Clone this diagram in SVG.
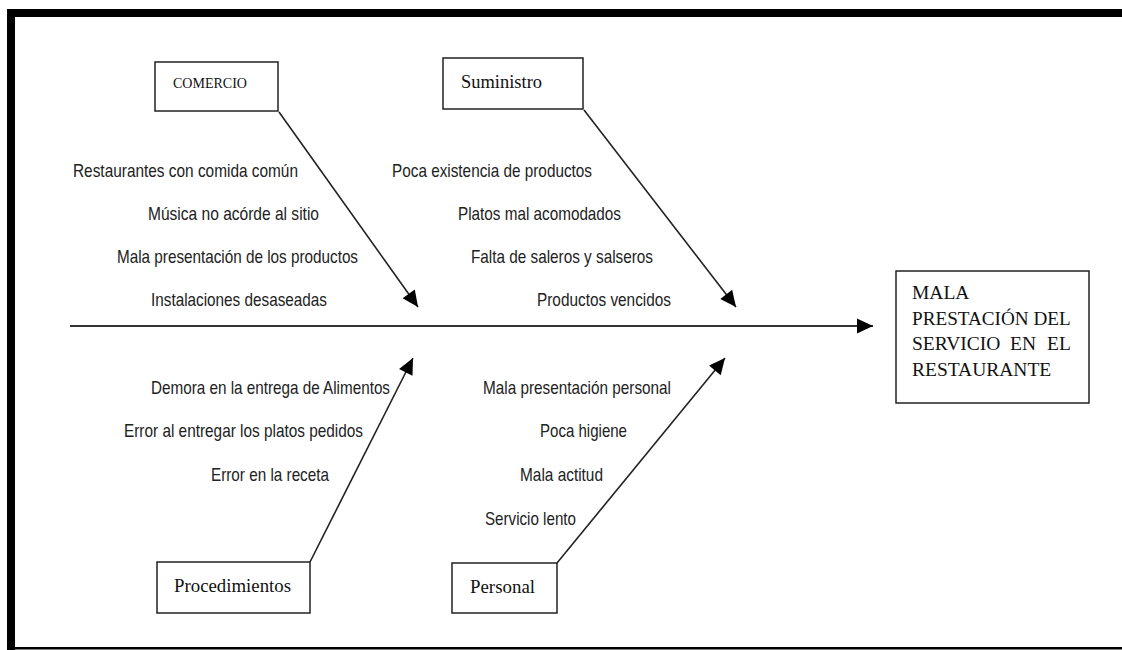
<svg xmlns="http://www.w3.org/2000/svg" width="1122" height="650" viewBox="0 0 1122 650">
<defs>
<style>
.frame{fill:#000}
.box{fill:#fff;stroke:#222;stroke-width:1.5}
.serif{font-family:"Liberation Serif","Times New Roman",serif;fill:#111}
.lbl{font-family:"Liberation Sans",Arial,sans-serif;font-size:18.5px;fill:#222}
.conn{stroke:#222;stroke-width:1.6;fill:none}
.spine{stroke:#333;stroke-width:2.2;fill:none}
</style>
<marker id="ah" markerUnits="userSpaceOnUse" markerWidth="18" markerHeight="18" viewBox="0 0 18 18" refX="17" refY="9" orient="auto">
<path d="M1,1.5 L17,9 L1,16.5 Z" fill="#000"/>
</marker>
</defs>
<rect x="0" y="0" width="1122" height="650" fill="#fff"/>
<g id="frame">
<rect class="frame" x="7" y="9" width="1115" height="8"/>
<rect class="frame" x="7" y="9" width="8" height="641"/>
<rect class="frame" x="7" y="647" width="1115" height="2.5"/>
</g>
<g id="connectors">
<line class="spine" x1="70" y1="326" x2="873" y2="326" marker-end="url(#ah)"/>
<line class="conn" x1="279" y1="112" x2="418" y2="307" marker-end="url(#ah)"/>
<line class="conn" x1="584" y1="110" x2="736" y2="307" marker-end="url(#ah)"/>
<line class="conn" x1="310" y1="562" x2="413" y2="358" marker-end="url(#ah)"/>
<line class="conn" x1="557" y1="563" x2="725" y2="358" marker-end="url(#ah)"/>
</g>
<g id="comercio">
<rect class="box" x="155" y="62" width="123" height="49"/>
<text class="serif" x="173" y="88" font-size="15.5" textLength="74" lengthAdjust="spacingAndGlyphs">COMERCIO</text>
</g>
<g id="suministro">
<rect class="box" x="443" y="58" width="140" height="51"/>
<text class="serif" x="461" y="88" font-size="19" textLength="81" lengthAdjust="spacingAndGlyphs">Suministro</text>
</g>
<g id="procedimientos">
<rect class="box" x="157" y="562" width="153" height="51"/>
<text class="serif" x="174" y="592" font-size="19" textLength="117" lengthAdjust="spacingAndGlyphs">Procedimientos</text>
</g>
<g id="personal">
<rect class="box" x="452" y="563" width="105" height="50"/>
<text class="serif" x="470" y="593" font-size="19" textLength="65" lengthAdjust="spacingAndGlyphs">Personal</text>
</g>
<g id="efecto">
<rect class="box" x="896" y="271" width="193" height="132"/>
<text class="serif" font-size="19.5">
<tspan x="912" y="299">MALA</tspan>
<tspan x="912" y="325" textLength="158" lengthAdjust="spacingAndGlyphs">PRESTACIÓN DEL</tspan>
<tspan x="912" y="350">SERVICIO</tspan><tspan x="1010" y="350">EN</tspan><tspan x="1047" y="350">EL</tspan>
<tspan x="912" y="376">RESTAURANTE</tspan>
</text>
</g>
<g id="causas-comercio">
<text class="lbl" x="73" y="177" textLength="225" lengthAdjust="spacingAndGlyphs">Restaurantes con comida común</text>
<text class="lbl" x="148" y="220" textLength="171" lengthAdjust="spacingAndGlyphs">Música no acórde al sitio</text>
<text class="lbl" x="117" y="263" textLength="241" lengthAdjust="spacingAndGlyphs">Mala presentación de los productos</text>
<text class="lbl" x="151" y="306" textLength="176" lengthAdjust="spacingAndGlyphs">Instalaciones desaseadas</text>
</g>
<g id="causas-suministro">
<text class="lbl" x="392" y="177" textLength="200" lengthAdjust="spacingAndGlyphs">Poca existencia de productos</text>
<text class="lbl" x="458" y="220" textLength="163" lengthAdjust="spacingAndGlyphs">Platos mal acomodados</text>
<text class="lbl" x="471" y="263" textLength="182" lengthAdjust="spacingAndGlyphs">Falta de saleros y salseros</text>
<text class="lbl" x="537" y="306" textLength="134" lengthAdjust="spacingAndGlyphs">Productos vencidos</text>
</g>
<g id="causas-procedimientos">
<text class="lbl" x="151" y="394" textLength="239" lengthAdjust="spacingAndGlyphs">Demora en la entrega de Alimentos</text>
<text class="lbl" x="124" y="437" textLength="239" lengthAdjust="spacingAndGlyphs">Error al entregar los platos pedidos</text>
<text class="lbl" x="211" y="481" textLength="118" lengthAdjust="spacingAndGlyphs">Error en la receta</text>
</g>
<g id="causas-personal">
<text class="lbl" x="483" y="394" textLength="188" lengthAdjust="spacingAndGlyphs">Mala presentación personal</text>
<text class="lbl" x="540" y="437" textLength="87" lengthAdjust="spacingAndGlyphs">Poca higiene</text>
<text class="lbl" x="520" y="481" textLength="83" lengthAdjust="spacingAndGlyphs">Mala actitud</text>
<text class="lbl" x="485" y="525" textLength="91" lengthAdjust="spacingAndGlyphs">Servicio lento</text>
</g>
</svg>
